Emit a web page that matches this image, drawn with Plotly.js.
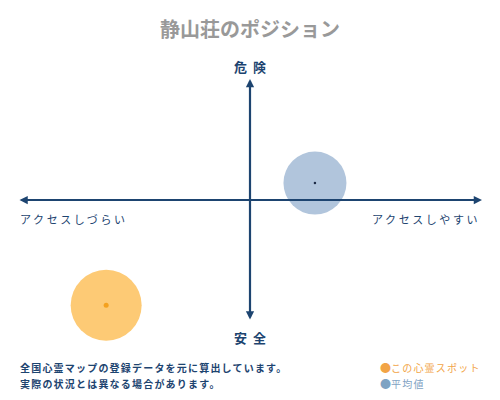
<!DOCTYPE html>
<html>
<head>
<meta charset="utf-8">
<script src="https://cdn.plot.ly/plotly-3.0.1.min.js"></script>
<style>
  html, body { margin: 0; padding: 0; background: #fff; }
  #chart { width: 500px; height: 400px; }
</style>
</head>
<body>
<div id="chart"></div>
<script>
// position of the spot and of the average, access on x, danger on y (-1..1)
var names = ['この心霊スポット', '平均値'];
var access = [-0.62, 0.28];
var danger = [-0.87, 0.14];
var circleSizes = [71, 63];
var circleColors = ['#fdca75', '#b1c5dc'];
var dotColors = ['#f4a11f', '#1c2b45'];
var dotSizes = [5, 2.5];
var legendColors = ['#f2a446', '#7fa3c3'];

var navy = '#1d4470';
var font = 'Noto Sans CJK JP, sans-serif';

function spaced(txt, px) {
   return '<span style="letter-spacing:' + px + 'px">' + txt + '</span>';
}

var circles = {
   x: access, y: danger, type: 'scatter', mode: 'markers', cliponaxis: false,
   marker: {size: circleSizes, color: circleColors, opacity: 1, line: {width: 0}},
   hoverinfo: 'skip', showlegend: false
};
var dots = {
   x: access, y: danger, type: 'scatter', mode: 'markers', cliponaxis: false,
   marker: {size: dotSizes, color: dotColors, opacity: 1, line: {width: 0}},
   hoverinfo: 'skip', showlegend: false
};

var annotations = [
   // axes with arrow heads
   {x: 1, y: 0, ax: -1, ay: 0, xref: 'x', yref: 'y', axref: 'x', ayref: 'y',
    text: '', showarrow: true, arrowside: 'end+start', arrowhead: 2,
    arrowsize: 0.75, arrowwidth: 2.2, arrowcolor: navy},
   {x: 0, y: 1, ax: 0, ay: -1, xref: 'x', yref: 'y', axref: 'x', ayref: 'y',
    text: '', showarrow: true, arrowside: 'end+start', arrowhead: 2,
    arrowsize: 0.75, arrowwidth: 2.2, arrowcolor: navy},
   // axis labels
   {x: 0, y: 1, xref: 'x', yref: 'y', yshift: 13, xshift: 3, showarrow: false,
    text: '<b>' + spaced('危険', 6) + '</b>', font: {family: font, size: 13, color: navy}},
   {x: 0, y: -1, xref: 'x', yref: 'y', yshift: -16, xshift: 3, showarrow: false,
    text: '<b>' + spaced('安全', 6) + '</b>', font: {family: font, size: 13, color: navy}},
   {x: -1, y: 0, xref: 'x', yref: 'y', yshift: -19, xanchor: 'left', showarrow: false,
    text: spaced('アクセスしづらい', 2.6), font: {family: font, size: 11, color: navy}},
   {x: 1, y: 0, xref: 'x', yref: 'y', yshift: -19, xanchor: 'right', showarrow: false,
    text: spaced('アクセスしやすい', 2.6), font: {family: font, size: 11, color: navy}},
   // note
   {x: -1, y: -1, xref: 'x', yref: 'y', yshift: -46, xanchor: 'left', showarrow: false,
    text: '<b>' + spaced('全国心霊マップの登録データを元に算出しています。', 1.2) + '</b>',
    font: {family: font, size: 10, color: navy}},
   {x: -1, y: -1, xref: 'x', yref: 'y', yshift: -62, xanchor: 'left', showarrow: false,
    text: '<b>' + spaced('実際の状況とは異なる場合があります。', 1.2) + '</b>',
    font: {family: font, size: 10, color: navy}}
];

// legend lines
for (var i = 0; i < names.length; i++) {
   annotations.push({
      x: 0.776, y: -1, xref: 'paper', yref: 'y', yshift: -46 - 16 * i,
      xanchor: 'left', showarrow: false,
      text: '<span style="font-size:11px">●</span>' + spaced(names[i], 1.2),
      font: {family: font, size: 10, color: legendColors[i]}
   });
}

var layout = {
   width: 500, height: 400,
   margin: {l: 18, r: 18, t: 79, b: 79},
   paper_bgcolor: '#fff', plot_bgcolor: '#fff',
   title: {text: '静山荘のポジション', x: 0.5, xanchor: 'center',
           y: 0.925, yref: 'container', yanchor: 'middle',
           font: {family: font, size: 20, color: '#999999', weight: 'bold'}},
   xaxis: {range: [-1, 1], visible: false, fixedrange: true},
   yaxis: {range: [-1, 1], visible: false, fixedrange: true},
   annotations: annotations,
   showlegend: false
};

Plotly.newPlot('chart', [circles, dots], layout, {displayModeBar: false, staticPlot: true});
</script>
</body>
</html>
